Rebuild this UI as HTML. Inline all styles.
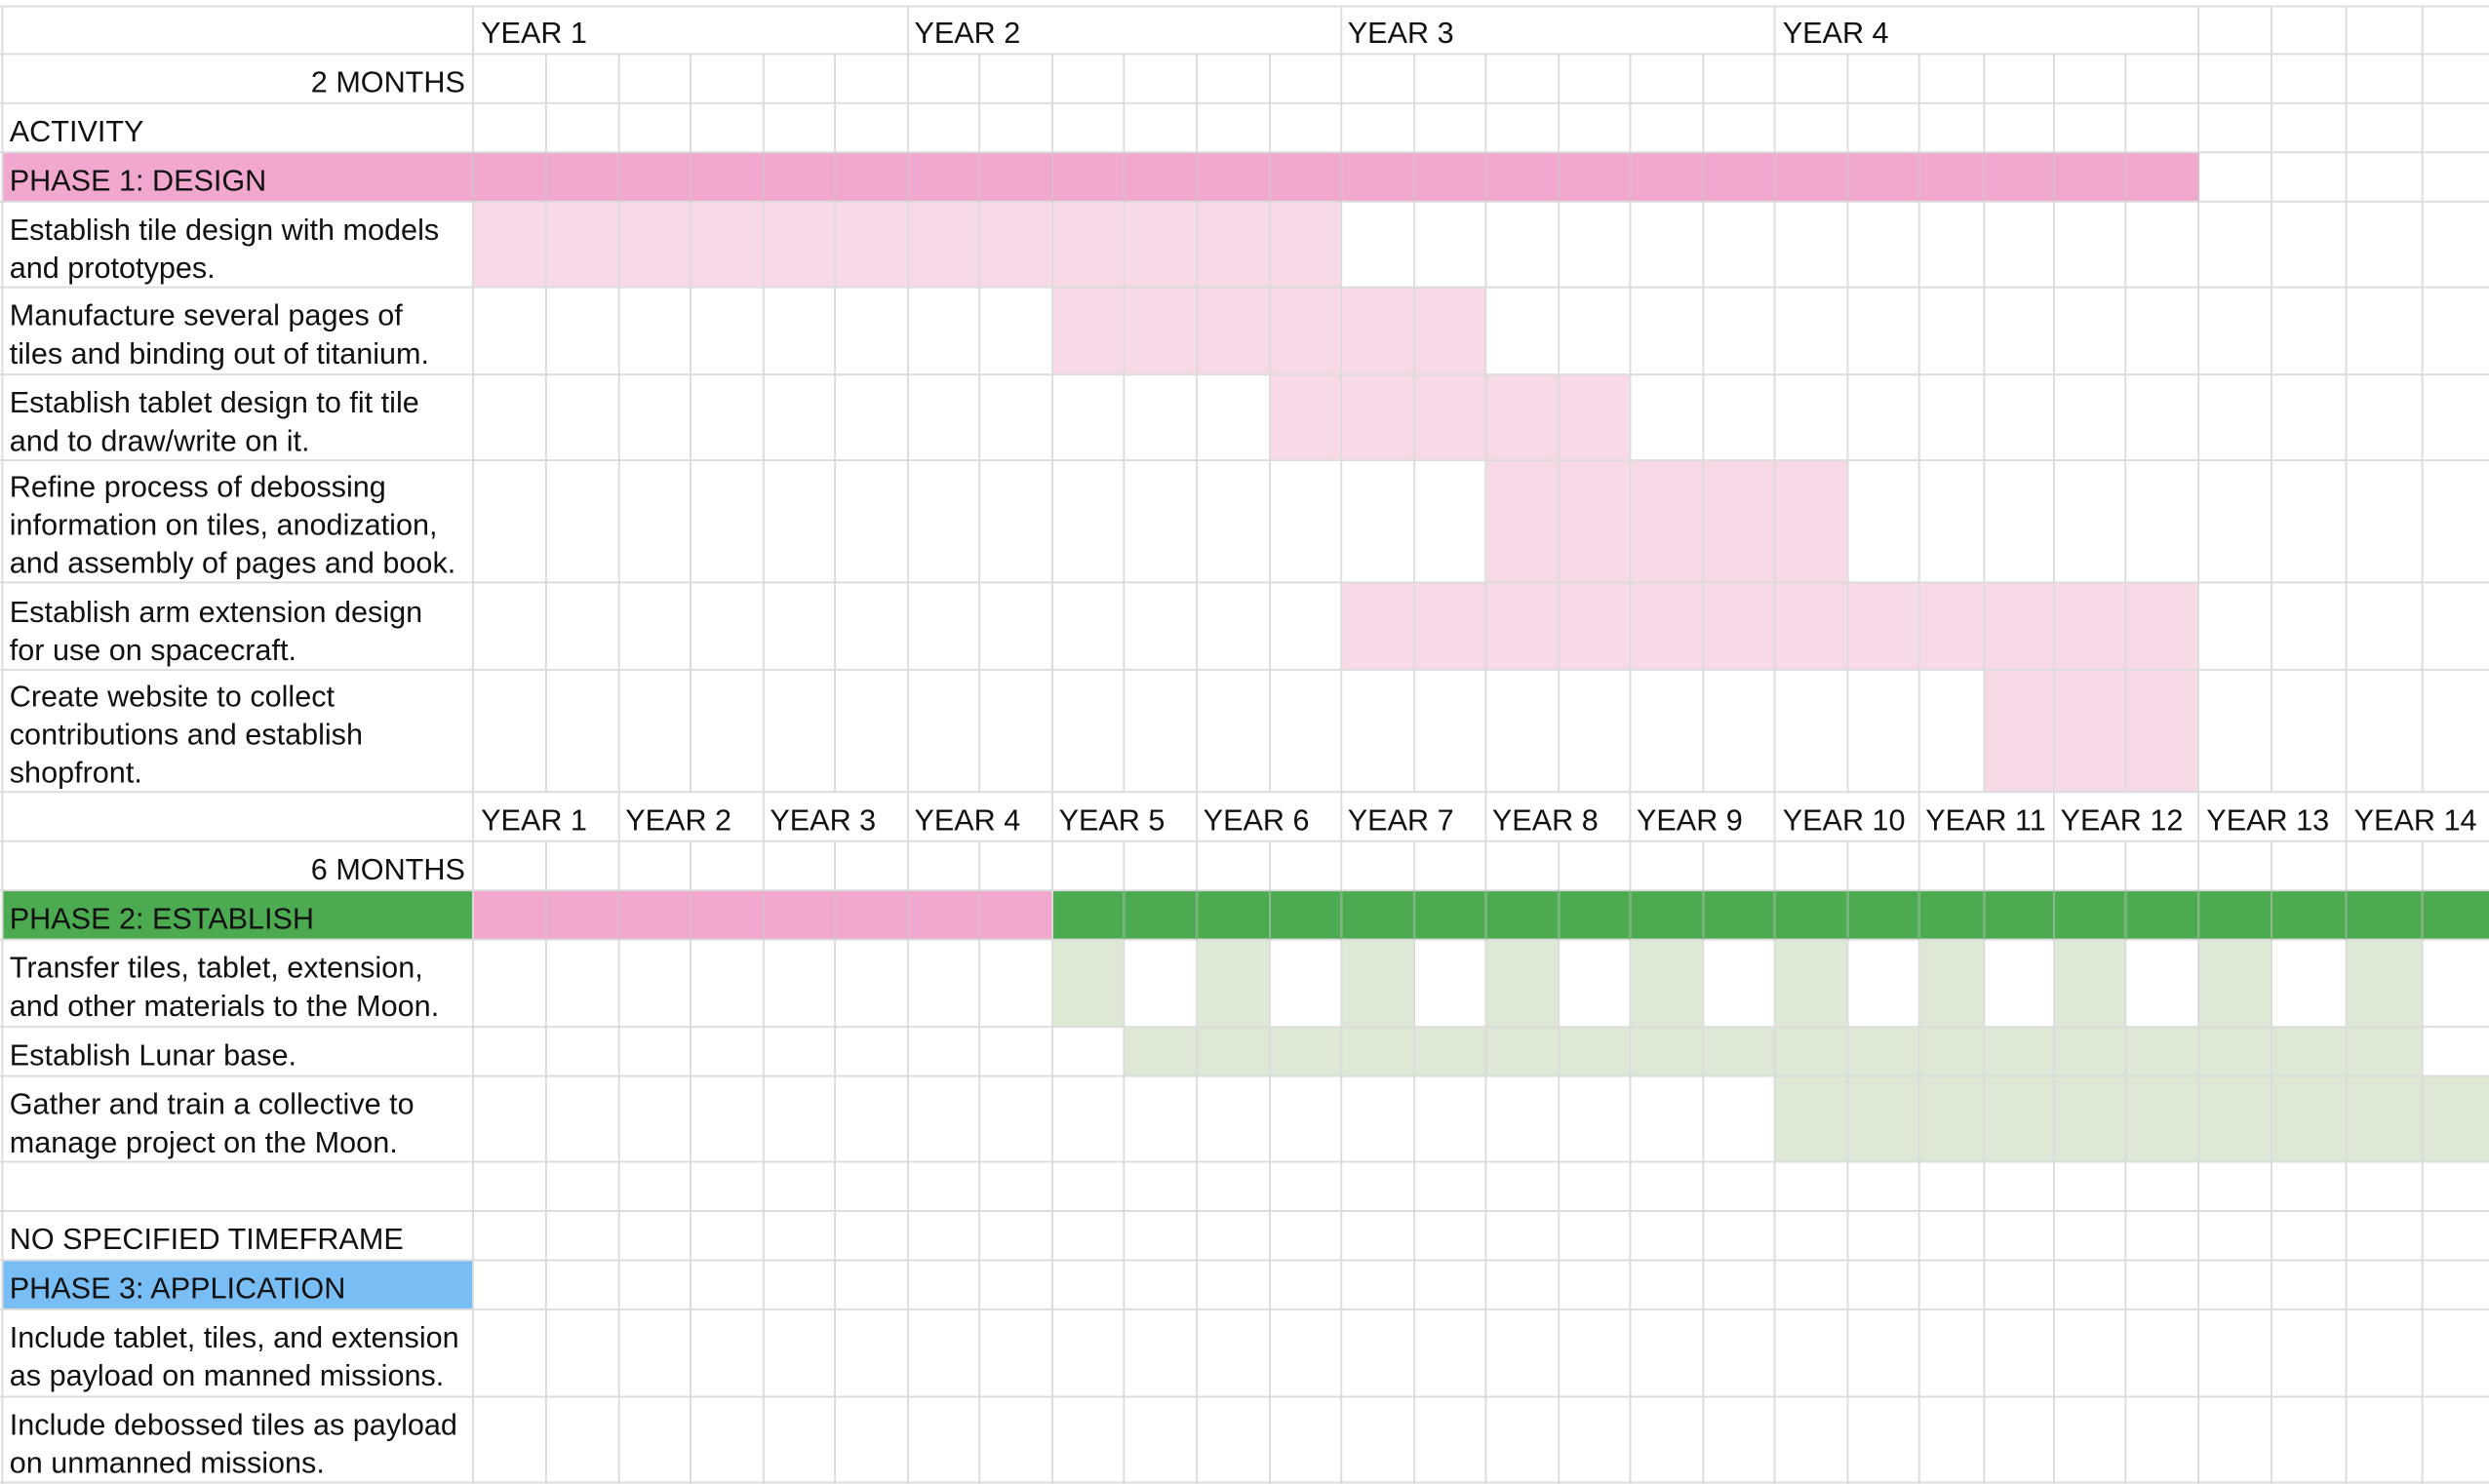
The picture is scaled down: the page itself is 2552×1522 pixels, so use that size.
<!DOCTYPE html>
<html><head><meta charset="utf-8"><style>
html,body{margin:0;padding:0;background:#fff;width:2552px;height:1522px;overflow:hidden}
svg{display:block}
text{font-family:"Liberation Sans",Arial,sans-serif;font-size:18.8px;fill:#111}
</style></head><body>
<svg width="2552" height="1522" viewBox="0 0 1568 935" preserveAspectRatio="none">
<rect x="0" y="0" width="1568" height="935" fill="#fff"/>
<g stroke="none">
<rect x="2" y="96" width="1383" height="31" fill="#f2a7cf"/>
<rect x="298" y="127" width="547" height="54" fill="#f8d9e8"/>
<rect x="663" y="181" width="273" height="55" fill="#f8d9e8"/>
<rect x="800" y="236" width="227" height="54" fill="#f8d9e8"/>
<rect x="936" y="290" width="228" height="77" fill="#f8d9e8"/>
<rect x="845" y="367" width="540" height="55" fill="#f8d9e8"/>
<rect x="1250" y="422" width="135" height="77" fill="#f8d9e8"/>
<rect x="2" y="561" width="296" height="31" fill="#4cab50"/>
<rect x="298" y="561" width="365" height="31" fill="#f2a7cf"/>
<rect x="663" y="561" width="905" height="31" fill="#4cab50"/>
<g fill="#dde8d5">
<rect x="663" y="592" width="45" height="55"/>
<rect x="754" y="592" width="46" height="55"/>
<rect x="845" y="592" width="46" height="55"/>
<rect x="936" y="592" width="46" height="55"/>
<rect x="1027" y="592" width="46" height="55"/>
<rect x="1118" y="592" width="46" height="55"/>
<rect x="1209" y="592" width="41" height="55"/>
<rect x="1294" y="592" width="45" height="55"/>
<rect x="1385" y="592" width="46" height="55"/>
<rect x="1478" y="592" width="48" height="55"/>
<rect x="708" y="647" width="818" height="31"/>
<rect x="1118" y="678" width="450" height="54"/>
</g>
<rect x="2" y="794" width="296" height="31" fill="#79bdf5"/>
</g>
<g stroke="#dcdcdc" stroke-width="1.2" fill="none">
<path d="M0 4H1568M0 34H1568M0 65H1568M0 96H1568M0 127H1568M0 181H1568M0 236H1568M0 290H1568M0 367H1568M0 422H1568M0 499H1568M0 530H1568M0 561H1568M0 592H1568M0 647H1568M0 678H1568M0 732H1568M0 763H1568M0 794H1568M0 825H1568M0 880H1568M0 934H1568"/>
<path d="M1.5 4V935M298 4V935"/>
<path d="M572 4V34M845 4V34M1118 4V34M1385 4V34M1431 4V34M1478 4V34M1526 4V34"/>
<path d="M344 34V499M390 34V499M435 34V499M481 34V499M526 34V499M572 34V499M617 34V499M663 34V499M708 34V499M754 34V499M800 34V499M845 34V499M891 34V499M936 34V499M982 34V499M1027 34V499M1073 34V499M1118 34V499M1164 34V499M1209 34V499M1250 34V499M1294 34V499M1339 34V499M1385 34V499M1431 34V499M1478 34V499M1526 34V499"/>
<path d="M390 499V530M481 499V530M572 499V530M663 499V530M754 499V530M845 499V530M936 499V530M1027 499V530M1118 499V530M1209 499V530M1294 499V530M1385 499V530M1478 499V530"/>
<path d="M344 530V935M390 530V935M435 530V935M481 530V935M526 530V935M572 530V935M617 530V935M663 530V935M708 530V935M754 530V935M800 530V935M845 530V935M891 530V935M936 530V935M982 530V935M1027 530V935M1073 530V935M1118 530V935M1164 530V935M1209 530V935M1250 530V935M1294 530V935M1339 530V935M1385 530V935M1431 530V935M1478 530V935M1526 530V935"/>
</g>
<g stroke="#d89ebd" stroke-width="1" fill="none" opacity="0.6">
<path d="M298 96V127M344 96V127M390 96V127M435 96V127M481 96V127M526 96V127M572 96V127M617 96V127M663 96V127M708 96V127M754 96V127M800 96V127M845 96V127M891 96V127M936 96V127M982 96V127M1027 96V127M1073 96V127M1118 96V127M1164 96V127M1209 96V127M1250 96V127M1294 96V127M1339 96V127M1385 96V127"/>
<path d="M344 561V592M390 561V592M435 561V592M481 561V592M526 561V592M572 561V592M617 561V592"/>
</g>
<g stroke="#3f9443" stroke-width="1" fill="none" opacity="0.6">
<path d="M708 561V592M754 561V592M800 561V592M845 561V592M891 561V592M936 561V592M982 561V592M1027 561V592M1073 561V592M1118 561V592M1164 561V592M1209 561V592M1250 561V592M1294 561V592M1339 561V592M1385 561V592M1431 561V592M1478 561V592M1526 561V592"/>
</g>
<text x="303" y="27">YEAR 1</text>
<text x="576" y="27">YEAR 2</text>
<text x="849" y="27">YEAR 3</text>
<text x="1123" y="27">YEAR 4</text>
<text x="293" y="58" text-anchor="end">2 MONTHS</text>
<text x="6" y="89">ACTIVITY</text>
<text x="6" y="120">PHASE 1: DESIGN</text>
<text x="6" y="151">Establish tile design with models</text>
<text x="6" y="175">and prototypes.</text>
<text x="6" y="205">Manufacture several pages of</text>
<text x="6" y="229">tiles and binding out of titanium.</text>
<text x="6" y="260">Establish tablet design to fit tile</text>
<text x="6" y="284">and to draw/write on it.</text>
<text x="6" y="313">Refine process of debossing</text>
<text x="6" y="337">information on tiles, anodization,</text>
<text x="6" y="361">and assembly of pages and book.</text>
<text x="6" y="392">Establish arm extension design</text>
<text x="6" y="416">for use on spacecraft.</text>
<text x="6" y="445">Create website to collect</text>
<text x="6" y="469">contributions and establish</text>
<text x="6" y="493">shopfront.</text>
<text x="303" y="523">YEAR 1</text>
<text x="394" y="523">YEAR 2</text>
<text x="485" y="523">YEAR 3</text>
<text x="576" y="523">YEAR 4</text>
<text x="667" y="523">YEAR 5</text>
<text x="758" y="523">YEAR 6</text>
<text x="849" y="523">YEAR 7</text>
<text x="940" y="523">YEAR 8</text>
<text x="1031" y="523">YEAR 9</text>
<text x="1123" y="523">YEAR 10</text>
<text x="1213" y="523">YEAR 11</text>
<text x="1298" y="523">YEAR 12</text>
<text x="1390" y="523">YEAR 13</text>
<text x="1483" y="523">YEAR 14</text>
<text x="293" y="554" text-anchor="end">6 MONTHS</text>
<text x="6" y="585">PHASE 2: ESTABLISH</text>
<text x="6" y="616">Transfer tiles, tablet, extension,</text>
<text x="6" y="640">and other materials to the Moon.</text>
<text x="6" y="671">Establish Lunar base.</text>
<text x="6" y="702">Gather and train a collective to</text>
<text x="6" y="726">manage project on the Moon.</text>
<text x="6" y="787">NO SPECIFIED TIMEFRAME</text>
<text x="6" y="818">PHASE 3: APPLICATION</text>
<text x="6" y="849">Include tablet, tiles, and extension</text>
<text x="6" y="873">as payload on manned missions.</text>
<text x="6" y="904">Include debossed tiles as payload</text>
<text x="6" y="928">on unmanned missions.</text>
</svg>
</body></html>
